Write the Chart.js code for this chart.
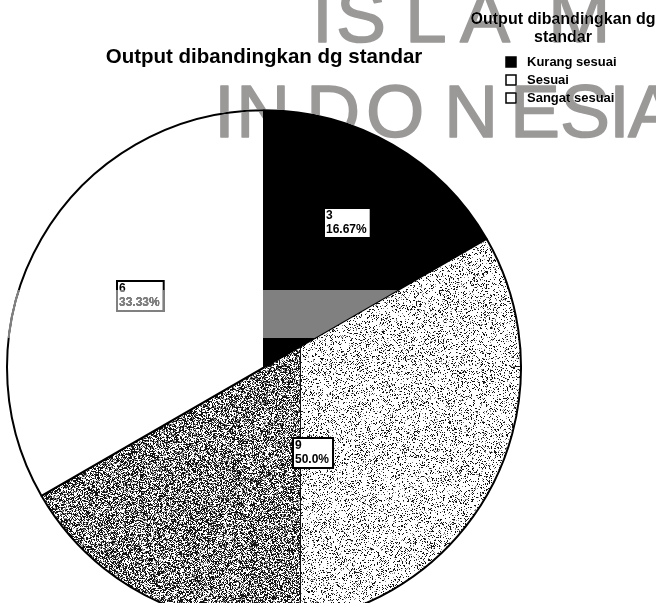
<!DOCTYPE html>
<html>
<head>
<meta charset="utf-8">
<script src="https://cdn.jsdelivr.net/npm/chart.js@4.4.1/dist/chart.umd.min.js"></script>
<style>
  html, body { margin: 0; padding: 0; background: #fff; overflow: hidden; }
  canvas { display: block; }
</style>
</head>
<body>
<canvas id="chart" width="656" height="603"></canvas>
<script>
const categories = ['Kurang sesuai', 'Sesuai', 'Sangat sesuai']
const counts = [3, 9, 6]
const percentLabels = ['16.67%', '50.0%', '33.33%']
const chartTitle = 'Output dibandingkan dg standar'
const legendTitle = ['Output dibandingkan dg', 'standar']

const FONT = '"Liberation Sans", Arial, sans-serif'

// cheap deterministic hash, only used for the scanned-paper stipple texture
function hash (x, y) {
  let n = Math.imul(x, 374761393) + Math.imul(y, 668265263)
  n = Math.imul(n ^ (n >>> 13), 1274126177)
  n = n ^ (n >>> 16)
  return (n >>> 0) / 4294967296
}

function stipple (ctx, w, h) {
  const c = document.createElement('canvas')
  c.width = w
  c.height = h
  const cx = c.getContext('2d')
  const img = cx.createImageData(w, h)
  for (let y = 0; y < h; y++) {
    for (let x = 0; x < w; x++) {
      const dark = x < 300 ? 0.6 : 0.2
      const r = hash(x, y)
      let v = 255
      if (r < dark * 0.7) v = 20
      else if (r < dark) v = 140
      const i = (y * w + x) * 4
      img.data[i] = img.data[i + 1] = img.data[i + 2] = v
      img.data[i + 3] = 255
    }
  }
  cx.putImageData(img, 0, 0)
  cx.fillStyle = '#111'
  cx.fillRect(300, 340, 1, h - 340)
  return ctx.createPattern(c, 'no-repeat')
}

const canvas = document.getElementById('chart')
const ctx = canvas.getContext('2d')
const sesuaiFill = stipple(ctx, canvas.width, canvas.height)
const fills = ['#000000', sesuaiFill, '#ffffff']

const paper = {
  id: 'paper',
  beforeDraw (chart) {
    const c = chart.ctx
    c.save()
    c.fillStyle = '#fff'
    c.fillRect(0, 0, chart.width, chart.height)
    c.restore()
  }
}

const overlay = {
  id: 'overlay',
  afterDraw (chart) {
    const c = chart.ctx
    const arcs = chart.getDatasetMeta(0).data
    const reach = [0.65, 0.385, 0.556]

    c.save()
    // value labels
    c.font = 'bold 12px ' + FONT
    c.textBaseline = 'middle'
    c.textAlign = 'left'
    arcs.forEach((arc, i) => {
      const p = arc.getProps(['x', 'y', 'startAngle', 'endAngle', 'outerRadius'], true)
      const mid = (p.startAngle + p.endAngle) / 2
      const cx = p.x + Math.cos(mid) * p.outerRadius * reach[i]
      const cy = p.y + Math.sin(mid) * p.outerRadius * reach[i]
      const lines = [String(counts[i]), percentLabels[i]]
      const w = Math.max(...lines.map(t => c.measureText(t).width)) + 6
      const h = 30
      const bx = Math.round(cx - w / 2)
      const by = Math.round(cy - h / 2)
      c.fillStyle = '#fff'
      c.fillRect(bx, by, w, h)
      c.strokeStyle = '#000'
      c.lineWidth = 2
      c.strokeRect(bx, by, w, h)
      c.fillStyle = '#000'
      c.fillText(lines[0], bx + 2, by + 8)
      c.fillText(lines[1], bx + 2, by + 22)
    })

    // legend
    c.textAlign = 'center'
    c.font = 'bold 16px ' + FONT
    c.fillText(legendTitle[0], 563, 20)
    c.fillText(legendTitle[1], 563, 38)
    c.textAlign = 'left'
    c.font = 'bold 13px ' + FONT
    categories.forEach((label, i) => {
      const yc = 62 + i * 18
      c.fillStyle = i === 0 ? '#000' : '#fff'
      c.fillRect(506, yc - 5, 10, 10)
      c.strokeStyle = '#000'
      c.lineWidth = 1.5
      c.strokeRect(506, yc - 5, 10, 10)
      c.fillStyle = '#000'
      c.fillText(label, 527, yc)
    })

    // scan watermark: grey bar lightens the black slice and the left half
    const k = arcs[0].getProps(['x', 'y', 'startAngle', 'endAngle', 'outerRadius'], true)
    c.save()
    c.beginPath()
    c.rect(0, 290, k.x, 48)
    c.moveTo(k.x, k.y)
    c.arc(k.x, k.y, k.outerRadius + 2, k.startAngle, k.endAngle)
    c.closePath()
    c.clip()
    c.globalCompositeOperation = 'lighten'
    c.fillStyle = '#808080'
    c.fillRect(0, 290, 470, 48)
    c.restore()

    // letters darken
    c.globalCompositeOperation = 'darken'
    c.fillStyle = '#9b9898'
    c.strokeStyle = '#9b9898'
    c.lineWidth = 1.5
    c.lineJoin = 'round'
    c.font = '75px ' + FONT
    c.textBaseline = 'alphabetic'
    const top = [['I', 312], ['S', 336], ['L', 405], ['A', 460], ['M', 548]]
    const bottom = [['I', 214], ['N', 236], ['D', 306], ['O', 366], ['N', 444], ['E', 510], ['S', 560], ['I', 609], ['A', 628]]
    top.forEach(([t, x]) => { c.fillText(t, x, 42); c.strokeText(t, x, 42) })
    bottom.forEach(([t, x]) => { c.fillText(t, x, 137); c.strokeText(t, x, 137) })
    c.restore()
  }
}

new Chart(ctx, {
  type: 'pie',
  data: {
    labels: categories,
    datasets: [{
      data: counts,
      backgroundColor: fills,
      borderColor: '#000',
      borderWidth: 2,
      clip: false
    }]
  },
  options: {
    responsive: false,
    animation: false,
    events: [],
    radius: 257,
    layout: { padding: { left: 0, right: 128, top: 0, bottom: 0 } },
    plugins: {
      legend: { display: false },
      tooltip: { enabled: false },
      title: {
        display: true,
        text: chartTitle,
        color: '#000',
        font: { size: 20.5, weight: 'bold', family: FONT },
        padding: { top: 45, bottom: 62 }
      }
    }
  },
  plugins: [paper, overlay]
})
</script>
</body>
</html>
